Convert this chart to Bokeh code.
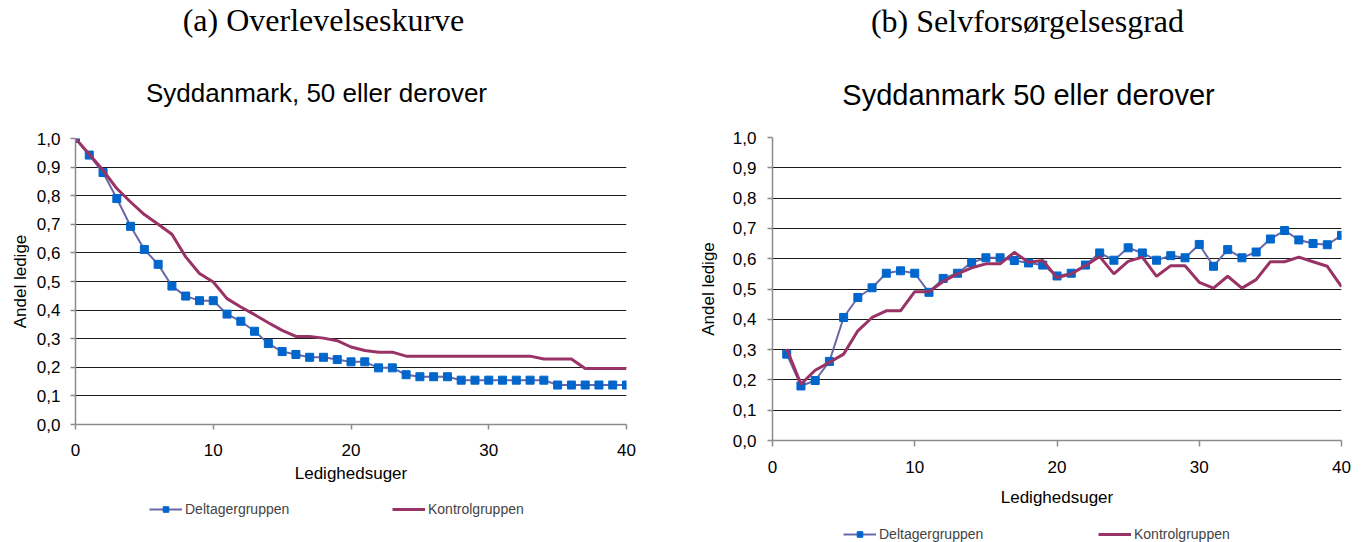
from bokeh.plotting import figure
from bokeh.models import Range1d, FixedTicker, CustomJSTickFormatter, Label, Legend, LegendItem
from bokeh.embed import file_html
from bokeh.resources import INLINE

# ---------------- data ----------------
weeks_a = list(range(0, 41))
deltager_a = [1.000, 0.942, 0.881, 0.790, 0.693, 0.612, 0.560, 0.484, 0.449, 0.433,
              0.433, 0.386, 0.361, 0.326, 0.283, 0.255, 0.245, 0.235, 0.235, 0.227,
              0.219, 0.219, 0.198, 0.198, 0.174, 0.167, 0.167, 0.167, 0.155, 0.155,
              0.155, 0.155, 0.155, 0.155, 0.155, 0.138, 0.138, 0.138, 0.138, 0.138, 0.138]
kontrol_a = [1.000, 0.945, 0.889, 0.825, 0.778, 0.734, 0.700, 0.665, 0.586, 0.528,
             0.498, 0.440, 0.411, 0.384, 0.356, 0.329, 0.308, 0.308, 0.302, 0.293,
             0.271, 0.259, 0.253, 0.253, 0.239, 0.239, 0.239, 0.239, 0.239, 0.239,
             0.239, 0.239, 0.239, 0.239, 0.229, 0.229, 0.229, 0.196, 0.196, 0.196, 0.196]

weeks_b = list(range(1, 41))
deltager_b = [0.285, 0.180, 0.198, 0.261, 0.406, 0.472, 0.504, 0.552, 0.560, 0.552,
              0.489, 0.535, 0.552, 0.587, 0.603, 0.603, 0.594, 0.586, 0.579, 0.543,
              0.552, 0.579, 0.619, 0.595, 0.636, 0.619, 0.595, 0.610, 0.603, 0.647,
              0.575, 0.630, 0.603, 0.622, 0.665, 0.693, 0.662, 0.650, 0.646, 0.677]
kontrol_b = [0.302, 0.186, 0.232, 0.258, 0.285, 0.362, 0.406, 0.428, 0.428, 0.491,
             0.491, 0.525, 0.550, 0.570, 0.583, 0.583, 0.621, 0.588, 0.594, 0.537,
             0.550, 0.577, 0.607, 0.550, 0.591, 0.605, 0.542, 0.577, 0.577, 0.522,
             0.503, 0.542, 0.503, 0.531, 0.590, 0.590, 0.605, 0.590, 0.575, 0.508]

y_ticks = [0.0, 0.1, 0.2, 0.3, 0.4, 0.5, 0.6, 0.7, 0.8, 0.9, 1.0]
x_ticks = [0, 10, 20, 30, 40]
captions = ["(a) Overlevelseskurve", "(b) Selvforsørgelsesgrad"]
titles = ["Syddanmark, 50 eller derover", "Syddanmark 50 eller derover"]
x_label = "Ledighedsuger"
y_label = "Andel ledige"
series_names = ["Deltagergruppen", "Kontrolgruppen"]

SANS = "Liberation Sans"
SERIF = "Liberation Serif"
C_DEL_LINE = "#6868A8"
C_DEL_MARK = "#0066CC"
C_KON = "#993366"
GRID = "#1a1a1a"
AXIS = "#8c8c8c"
W, H = 1363, 542


def make_fig(width, bl, br, bt, bb, x_tick_out, x_std, x_lbl_std, y_std, y_lbl_std):
    p = figure(width=width, height=H, output_backend="svg", toolbar_location=None,
               x_range=Range1d(0, 40), y_range=Range1d(0, 1.0),
               min_border_left=bl, min_border_right=br, min_border_top=bt, min_border_bottom=bb)
    p.outline_line_color = None
    fmt = CustomJSTickFormatter(code="return tick.toFixed(1).replace('.', ',');")
    p.yaxis.ticker = FixedTicker(ticks=y_ticks)
    p.yaxis.formatter = fmt
    p.xaxis.ticker = FixedTicker(ticks=x_ticks)
    for ax in (p.xaxis[0], p.yaxis[0]):
        ax.axis_line_color = AXIS
        ax.axis_line_width = 1.5
        ax.major_tick_line_color = AXIS
        ax.major_tick_line_width = 1.5
        ax.major_tick_in = 0
        ax.minor_tick_line_color = None
        ax.major_label_text_font = SANS
        ax.major_label_text_font_size = "17px"
        ax.major_label_text_color = "black"
        ax.axis_label_text_font = SANS
        ax.axis_label_text_font_size = "17px"
        ax.axis_label_text_font_style = "normal"
        ax.axis_label_text_color = "black"
    p.xaxis.major_tick_out = x_tick_out
    p.xaxis.major_label_standoff = x_std
    p.xaxis.axis_label = x_label
    p.xaxis.axis_label_standoff = x_lbl_std
    p.yaxis.major_tick_out = 5
    p.yaxis.major_label_standoff = y_std
    p.yaxis.axis_label = y_label
    p.yaxis.axis_label_standoff = y_lbl_std
    p.xgrid.grid_line_color = None
    p.ygrid.ticker = FixedTicker(ticks=y_ticks[1:])
    p.ygrid.grid_line_color = GRID
    p.ygrid.grid_line_width = 1
    return p


def draw_series(p, xs, dv, kv):
    l1 = p.line(xs, dv, line_color=C_DEL_LINE, line_width=2)
    m1 = p.scatter(xs, dv, marker="square", size=8, fill_color=C_DEL_MARK, line_color=C_DEL_MARK)
    l2 = p.line(xs, kv, line_color=C_KON, line_width=3)
    return l1, m1, l2


# left chart: frame at page x 75..626, y 138..424
pa = make_fig(688, 75, 62, 138, 118, 5, 14, 5, 10, 4)
draw_series(pa, weeks_a, deltager_a, kontrol_a)
pa.styles = {"position": "absolute", "left": "0px", "top": "0px"}

# right chart: frame at page x 772..1341, y 137..440
pb = make_fig(675, 84, 22, 137, 102, 6, 14, 12, 11, 12)
draw_series(pb, weeks_b, deltager_b, kontrol_b)
pb.styles = {"position": "absolute", "left": "688px", "top": "0px"}

# transparent overlay for captions, titles and legends (frame = whole page)
ov = figure(width=W, height=H, output_backend="svg", toolbar_location=None,
            x_range=Range1d(-100, -60), y_range=Range1d(0, 1.0),
            x_axis_type=None, y_axis_type=None,
            min_border_left=0, min_border_right=0, min_border_top=0, min_border_bottom=0)
ov.grid.visible = False
ov.outline_line_color = None
ov.background_fill_color = None
ov.border_fill_color = None
ov.styles = {"position": "absolute", "left": "0px", "top": "0px"}


def add_text(x, y_from_top, text, font, size):
    ov.add_layout(Label(x=x, y=H - y_from_top, x_units="screen", y_units="screen", text=text,
                        text_font=font, text_font_size=size, text_align="center",
                        text_baseline="alphabetic", text_color="black"))


add_text(323, 19, captions[0], SERIF, "32px")
add_text(1027, 20, captions[1], SERIF, "32px")
add_text(316, 92, titles[0], SANS, "26px")
add_text(1028, 94, titles[1], SANS, "29px")


def add_legend(xs, dv, kv, lx, ly, label_w, spacing):
    l1, m1, l2 = draw_series(ov, xs, dv, kv)   # hidden: outside overlay's x range
    ov.add_layout(Legend(items=[LegendItem(label=series_names[0], renderers=[l1, m1]),
                                LegendItem(label=series_names[1], renderers=[l2])],
                         location=(lx, ly), orientation="horizontal",
                         label_text_font=SANS, label_text_font_size="14px",
                         label_standoff=3, glyph_width=33, glyph_height=14, label_width=label_w,
                         spacing=spacing, padding=0, margin=0,
                         background_fill_alpha=0, border_line_color=None))


add_legend(weeks_a, deltager_a, kontrol_a, 149, 25, 124, 83)
add_legend(weeks_b, deltager_b, kontrol_b, 843, 0, 136, 83)

open("out.html", "w").write(file_html([pa, pb, ov], INLINE))
